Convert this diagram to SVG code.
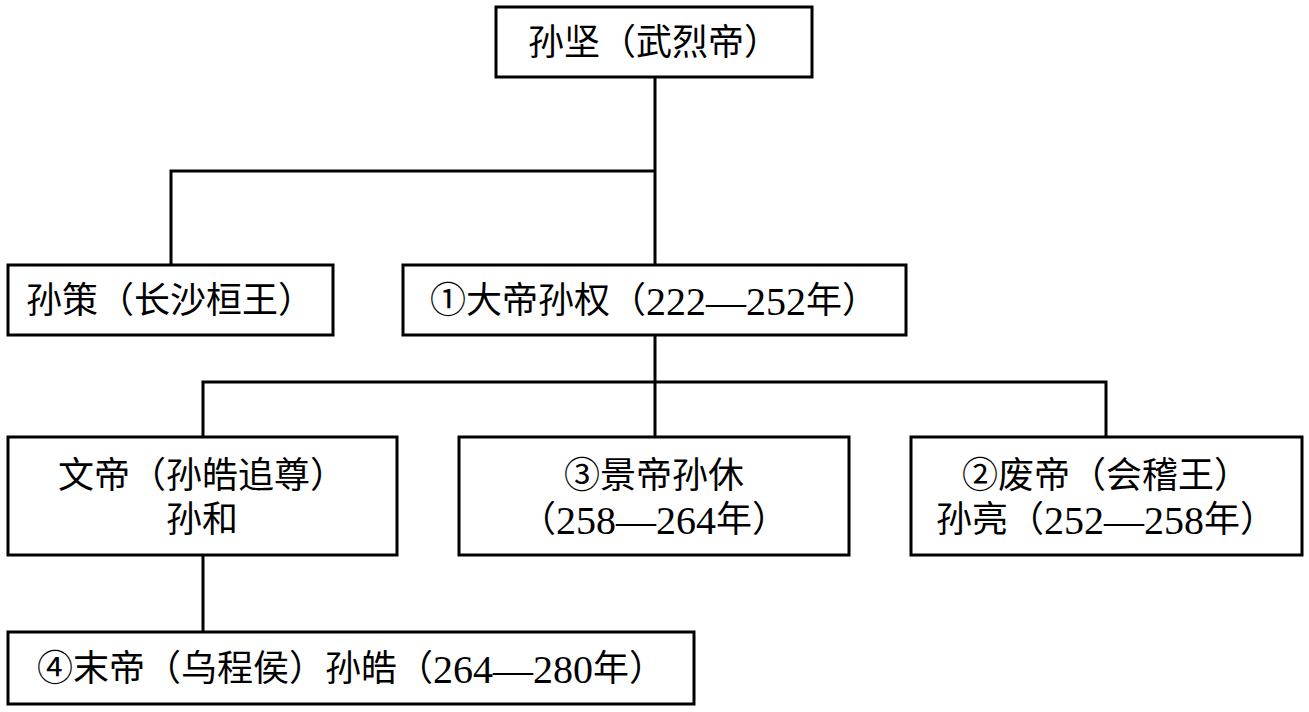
<svg xmlns="http://www.w3.org/2000/svg" width="1309" height="712" viewBox="0 0 1309 712">
<style>
.box{fill:#fff;stroke:#000;stroke-width:3}
.conn{fill:none;stroke:#000;stroke-width:3}
text{font-family:"Liberation Serif","Noto Sans CJK SC",serif;font-size:36px;fill:#000;text-anchor:middle;dominant-baseline:central}
.d{font-family:"Liberation Serif","Times New Roman","DejaVu Serif",serif;font-size:40px}
</style>
<rect width="1309" height="712" fill="#fff"/>
<g id="connectors">
<path class="conn" d="M655 77V265M171 265V171H655"/>
<path class="conn" d="M655 335V437M203 437V382H1106V437"/>
<path class="conn" d="M203 555V632"/>
</g>
<g id="n1"><rect class="box" x="496" y="7" width="316" height="70"/><text x="654" y="43">孙坚（武烈帝）</text></g>
<g id="n2"><rect class="box" x="8" y="265" width="325" height="70"/><text x="170" y="301">孙策（长沙桓王）</text></g>
<g id="n3"><rect class="box" x="403" y="265" width="503" height="70"/><text x="654" y="301">①大帝孙权（<tspan class="d">222—252</tspan>年）</text></g>
<g id="n4"><rect class="box" x="8" y="437" width="389" height="118"/><text x="202" y="476">文帝（孙皓追尊）</text><text x="202" y="520">孙和</text></g>
<g id="n5"><rect class="box" x="459" y="437" width="390" height="118"/><text x="654" y="476">③景帝孙休</text><text x="654" y="520">（<tspan class="d">258—264</tspan>年）</text></g>
<g id="n6"><rect class="box" x="911" y="437" width="391" height="118"/><text x="1106" y="476">②废帝（会稽王）</text><text x="1106" y="520">孙亮（<tspan class="d">252—258</tspan>年）</text></g>
<g id="n7"><rect class="box" x="8" y="632" width="686" height="72"/><text x="351" y="669">④末帝（乌程侯）孙皓（<tspan class="d">264—280</tspan>年）</text></g>
</svg>
